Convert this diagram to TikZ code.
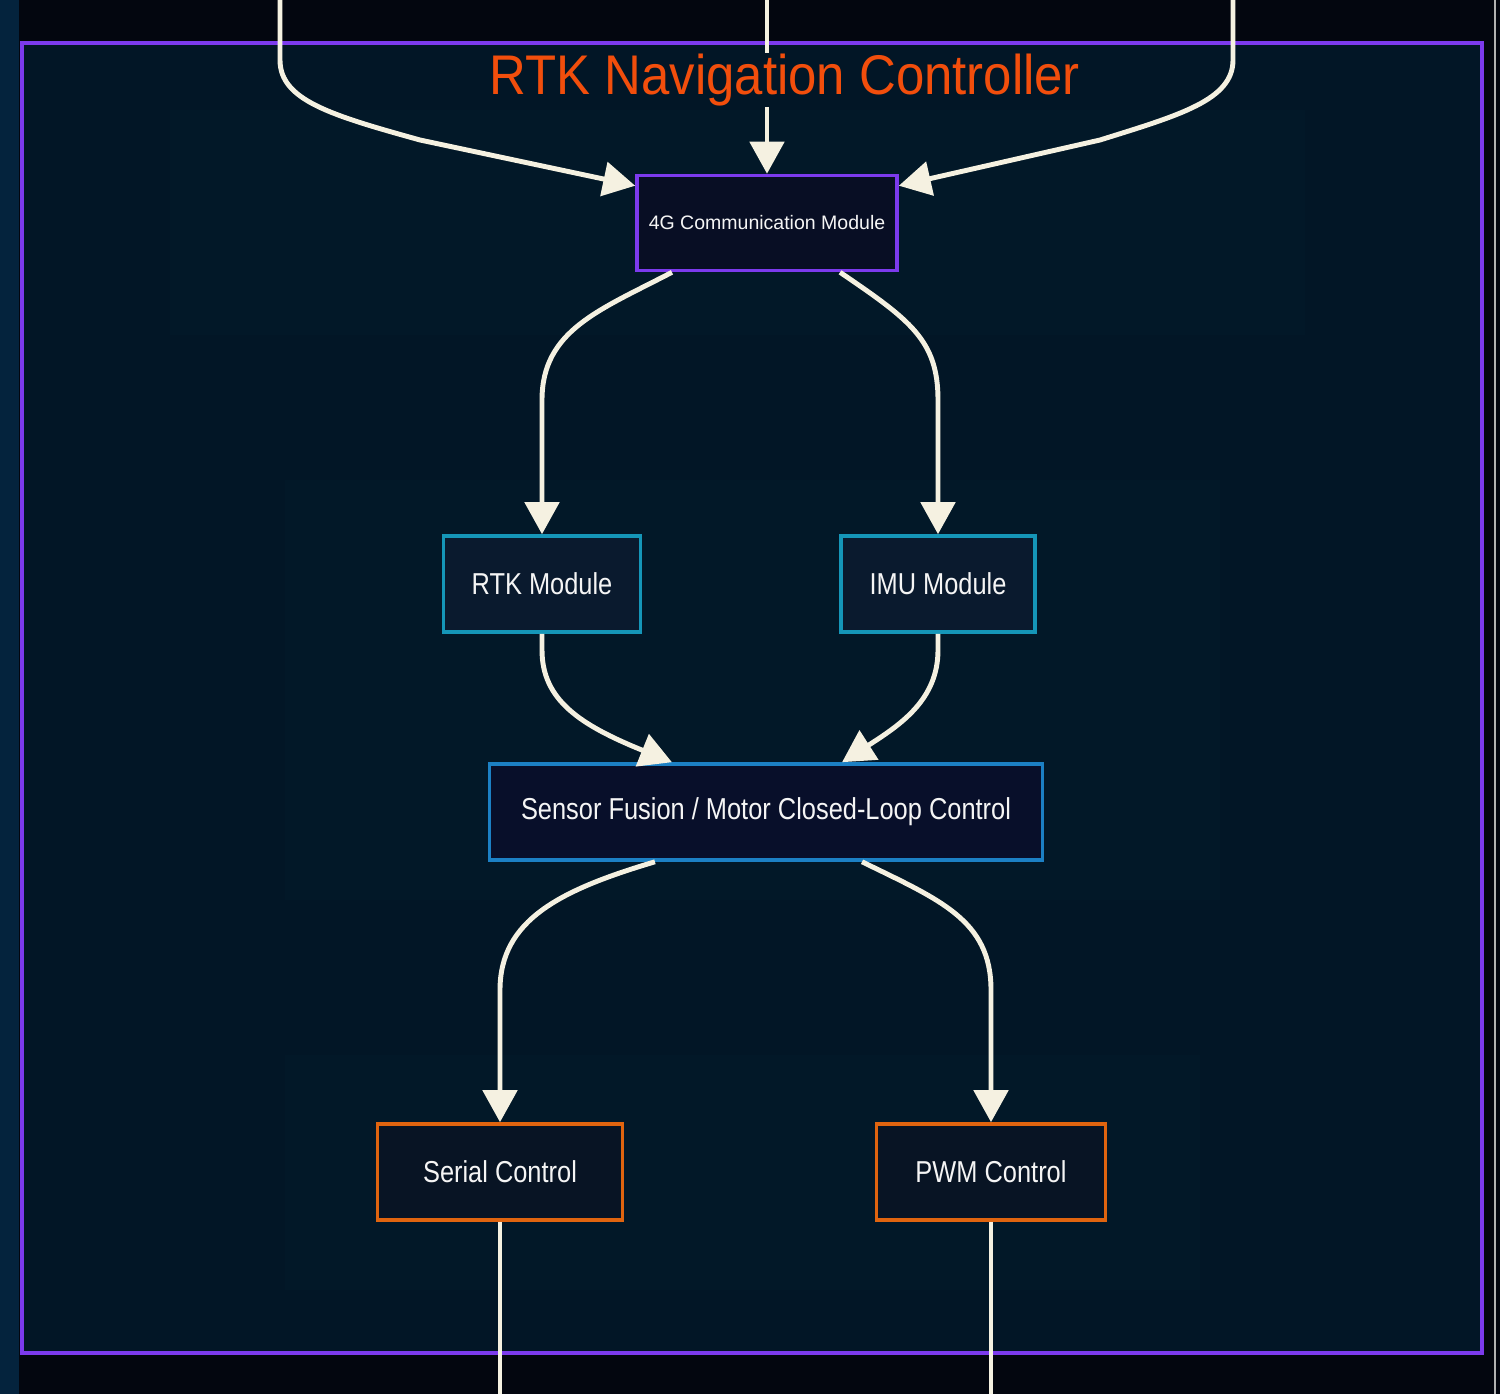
\documentclass[tikz,border=0pt]{standalone}
\usepackage{fontspec}
\setmainfont{Liberation Sans}
\newfontfamily\boxfont[FakeStretch=0.84]{Liberation Sans}
\newfontfamily\titlefont[FakeStretch=0.91]{Liberation Sans}
\usetikzlibrary{arrows.meta,positioning,calc}
\definecolor{pageDark}{HTML}{03060F}
\definecolor{sideNavy}{HTML}{04233D}
\definecolor{clusterFill}{HTML}{021626}
\definecolor{layerFill}{HTML}{021828}
\definecolor{ctrlPurple}{HTML}{7C3AED}
\definecolor{titleOrange}{HTML}{F24E0C}
\definecolor{commFill}{HTML}{080E24}
\definecolor{sensTeal}{HTML}{1596B8}
\definecolor{sensFill}{HTML}{0A1A2E}
\definecolor{fusBlue}{HTML}{1C80C4}
\definecolor{fusFill}{HTML}{080F2A}
\definecolor{outOrange}{HTML}{E0640F}
\definecolor{outFill}{HTML}{081424}
\definecolor{linkCream}{HTML}{F5F1E1}
\definecolor{nodeText}{HTML}{F5F5F5}

\begin{document}
\begin{tikzpicture}[x=0.01cm,y=-0.01cm,
  box/.style={draw,line width=1pt,text=nodeText,minimum height=0.96cm,inner sep=0pt,align=center,font=\boxfont\fontsize{8.6}{10}\selectfont},
  commbox/.style={box,draw=ctrlPurple,fill=commFill,font=\fontsize{5.55}{7}\selectfont},
  sensorbox/.style={box,draw=sensTeal,fill=sensFill},
  fusionbox/.style={box,draw=fusBlue,fill=fusFill},
  outbox/.style={box,draw=outOrange,fill=outFill},
  link/.style={-{Triangle[length=3.2mm,width=3.4mm]},line width=1.4pt,linkCream}]

\useasboundingbox (0,0) rectangle (1500,1394);
\fill[pageDark] (0,0) rectangle (1500,1394);
\fill[sideNavy] (0,0) rectangle (19,1394);
\draw[gray!60,line width=0.5pt] (1495,0) -- (1495,1394);

% controller frame
\draw[ctrlPurple,line width=1.2pt,fill=clusterFill] (22,43) rectangle (1482,1353);
\fill[layerFill] (170,110) rectangle (1305,335);
\fill[layerFill] (285,480) rectangle (1220,900);
\fill[layerFill] (285,1055) rectangle (1200,1290);

\node[commbox,minimum width=2.6cm,minimum height=0.95cm] (g4) at (767,223) {4G Communication Module};
\node[sensorbox,minimum width=1.97cm] (rtk) at (542,584) {RTK Module};
\node[sensorbox,minimum width=1.94cm] (imu) at (938,584) {IMU Module};
\node[fusionbox,minimum width=5.53cm] (fus) at (766,812) {Sensor Fusion / Motor Closed-Loop Control};
\node[outbox,minimum width=2.45cm] (ser) at (500,1172) {Serial Control};
\node[outbox,minimum width=2.29cm] (pwm) at (991,1172) {PWM Control};

\coordinate (inL) at (280,0);
\coordinate (inM) at (767,0);
\coordinate (inR) at (1233,0);
\coordinate (outS) at (500,1394);
\coordinate (outP) at (991,1394);

\draw[link] (inL) -- (280,60) .. controls (280,100) and (330,115) .. (420,140) -- ([yshift=-0.12cm]g4.north west);
\draw[link] (inM) -- (g4.north);
\draw[link] (inR) -- (1233,60) .. controls (1233,100) and (1180,115) .. (1100,140) -- ([yshift=-0.12cm]g4.north east);
\draw[link] ([xshift=-0.95cm]g4.south) .. controls (600,310) and (542,330) .. (542,400) -- (rtk.north);
\draw[link] ([xshift=0.73cm]g4.south) .. controls (910,320) and (938,340) .. (938,400) -- (imu.north);
\draw[link] (rtk.south) -- (542,650) .. controls (542,700) and (580,725) .. ([xshift=-0.94cm]fus.north);
\draw[link] (imu.south) -- (938,650) .. controls (938,700) and (900,725) .. ([xshift=0.76cm]fus.north);
\draw[link] ([xshift=-1.11cm]fus.south) .. controls (560,890) and (500,920) .. (500,990) -- (ser.north);
\draw[link] ([xshift=0.96cm]fus.south) .. controls (940,900) and (991,920) .. (991,990) -- (pwm.north);
\draw[link,-] (ser.south) -- (outS);
\draw[link,-] (pwm.south) -- (outP);

\node[fill=clusterFill,text=titleOrange,inner sep=0pt,minimum height=0.54cm,font=\titlefont\fontsize{15.9}{18}\selectfont] (title) at (785,80) {RTK Navigation Controller};
\end{tikzpicture}
\end{document}
